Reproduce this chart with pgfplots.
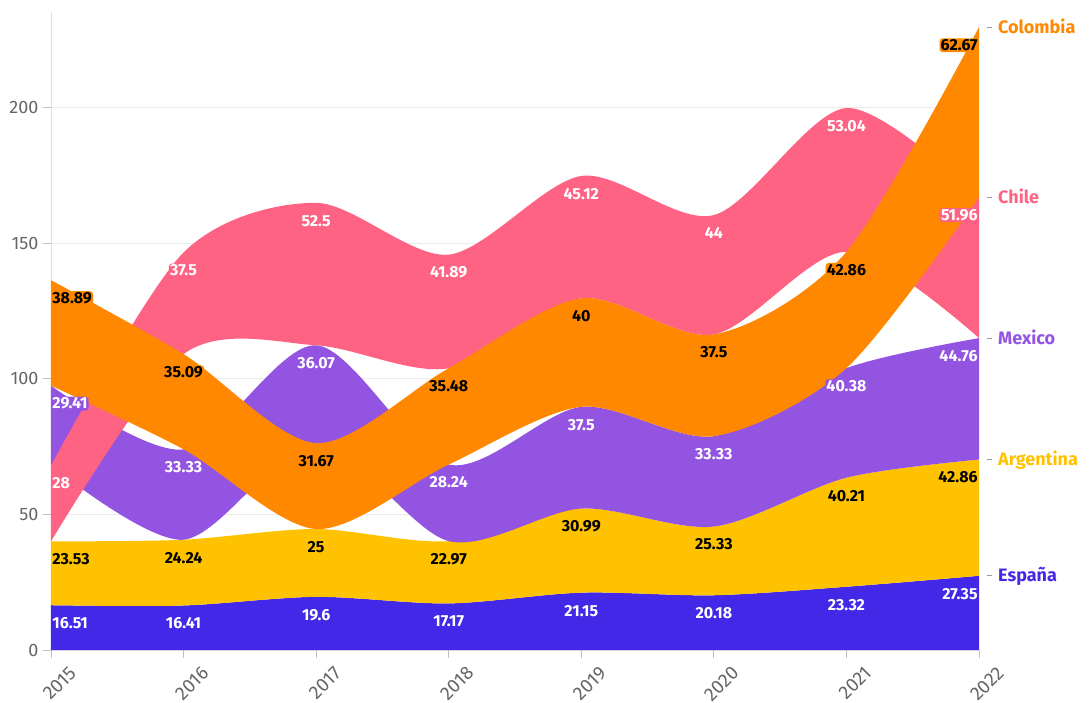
\documentclass[border=0pt]{standalone}
\usepackage{fontspec}
\setmainfont{Fira Sans}
\usepackage{pgfplots}
\usepackage{pgfplotstable}
\pgfplotsset{compat=1.18}
\usepgfplotslibrary{fillbetween}

\definecolor{cES}{HTML}{4328E7}
\definecolor{cAR}{HTML}{FFC200}
\definecolor{cMX}{HTML}{9454E2}
\definecolor{cCL}{HTML}{FF6384}
\definecolor{cCO}{HTML}{FF8800}

\pgfplotstableread{
year esLo esHi arHi mxLo mxHi clLo clHi coLo coHi
2015 0 16.51 40.04 68.04 97.45 40.04 68.04 97.45 136.34
2016 0 16.41 40.65 40.65 73.98 109.07 146.57 73.98 109.07
2017 0 19.6 44.6 76.27 112.34 112.34 164.84 44.6 76.27
2018 0 17.17 40.14 40.14 68.38 103.86 145.75 68.38 103.86
2019 0 21.15 52.14 52.14 89.64 129.64 174.76 89.64 129.64
2020 0 20.18 45.51 45.51 78.84 116.34 160.34 78.84 116.34
2021 0 23.32 63.53 63.53 103.91 146.77 199.81 103.91 146.77
2022 0 27.35 70.21 70.21 114.97 114.97 166.93 166.93 229.6
}\bands

% \lab{x,y}{text}{fill}{textcolor}{anchor}
\newcommand{\lab}[5]{\node[anchor=#5, fill=#3, text=#4, rounded corners=3pt,
  inner sep=1.2pt, yshift=-18pt, font=\fontsize{16}{18}\selectfont\bfseries] at (axis cs:#1) {#2};}
\newcommand{\rlab}[3]{\node[anchor=base west, xshift=8pt, yshift=-6pt, inner sep=0pt,
  font=\fontsize{18}{20}\selectfont\bfseries, text=#3] at (axis cs:#1) {\textcolor{black!40}{\rule[5.5pt]{5pt}{1pt}}\hspace{6pt}#2};}

\begin{document}
\begin{tikzpicture}
\begin{axis}[
  at={(0,0)}, anchor=south west,
  width=928pt, height=638pt, scale only axis,
  xmin=2015, xmax=2022, ymin=0, ymax=235.2,
  xtick={2015,2016,2017,2018,2019,2020,2021,2022},
  ytick={0,50,100,150,200},
  axis lines*=left,
  x axis line style={draw=none},
  y axis line style={black!12},
  ymajorgrids, grid style={black!8, line width=0.8pt},
  tick align=outside, major tick length=8pt,
  tick style={black!25, line width=0.8pt},
  /pgf/number format/assume math mode=true,
  /pgf/number format/1000 sep={},
  xticklabel={\pgfmathprintnumber{\tick}},
  yticklabel={\pgfmathprintnumber{\tick}},
  xticklabel style={font=\fontsize{19}{21}\selectfont, text=black!60, rotate=45, anchor=north east, xshift=7pt, yshift=-17pt, inner sep=0pt},
  yticklabel style={font=\fontsize{18}{20}\selectfont, text=black!60, xshift=-1pt},
  clip=false,
]
% Espana
\addplot[draw=none, smooth, forget plot, name path=esLo] table[x=year, y=esLo] {\bands};
\addplot[draw=none, smooth, forget plot, name path=esHi] table[x=year, y=esHi] {\bands};
\addplot[fill=cES, draw=none, forget plot] fill between[of=esHi and esLo];
% Argentina
\addplot[draw=none, smooth, forget plot, name path=arHi] table[x=year, y=arHi] {\bands};
\addplot[fill=cAR, draw=none, forget plot] fill between[of=arHi and esHi];
% Mexico
\addplot[draw=none, smooth, forget plot, name path=mxLo] table[x=year, y=mxLo] {\bands};
\addplot[draw=none, smooth, forget plot, name path=mxHi] table[x=year, y=mxHi] {\bands};
\addplot[fill=cMX, draw=none, forget plot] fill between[of=mxHi and mxLo];
% Chile
\addplot[draw=none, smooth, forget plot, name path=clLo] table[x=year, y=clLo] {\bands};
\addplot[draw=none, smooth, forget plot, name path=clHi] table[x=year, y=clHi] {\bands};
\addplot[fill=cCL, draw=none, forget plot] fill between[of=clHi and clLo];
% Colombia
\addplot[draw=none, smooth, forget plot, name path=coLo] table[x=year, y=coLo] {\bands};
\addplot[draw=none, smooth, forget plot, name path=coHi] table[x=year, y=coHi] {\bands};
\addplot[fill=cCO, draw=none, forget plot] fill between[of=coHi and coLo];

% value labels: Espana
\lab{2015,16.51}{16.51}{cES}{white}{west}
\lab{2016,16.41}{16.41}{cES}{white}{center}
\lab{2017,19.6}{19.6}{cES}{white}{center}
\lab{2018,17.17}{17.17}{cES}{white}{center}
\lab{2019,21.15}{21.15}{cES}{white}{center}
\lab{2020,20.18}{20.18}{cES}{white}{center}
\lab{2021,23.32}{23.32}{cES}{white}{center}
\lab{2022,27.35}{27.35}{cES}{white}{east}
% Argentina
\lab{2015,40.04}{23.53}{cAR}{black}{west}
\lab{2016,40.65}{24.24}{cAR}{black}{center}
\lab{2017,44.6}{25}{cAR}{black}{center}
\lab{2018,40.14}{22.97}{cAR}{black}{center}
\lab{2019,52.14}{30.99}{cAR}{black}{center}
\lab{2020,45.51}{25.33}{cAR}{black}{center}
\lab{2021,63.53}{40.21}{cAR}{black}{center}
\lab{2022,70.21}{42.86}{cAR}{black}{east}
% Mexico
\lab{2015,97.45}{29.41}{cMX}{white}{west}
\lab{2016,73.98}{33.33}{cMX}{white}{center}
\lab{2017,112.34}{36.07}{cMX}{white}{center}
\lab{2018,68.38}{28.24}{cMX}{white}{center}
\lab{2019,89.64}{37.5}{cMX}{white}{center}
\lab{2020,78.84}{33.33}{cMX}{white}{center}
\lab{2021,103.91}{40.38}{cMX}{white}{center}
\lab{2022,114.97}{44.76}{cMX}{white}{east}
% Chile
\lab{2015,68.04}{28}{cCL}{white}{west}
\lab{2016,146.57}{37.5}{cCL}{white}{center}
\lab{2017,164.84}{52.5}{cCL}{white}{center}
\lab{2018,145.75}{41.89}{cCL}{white}{center}
\lab{2019,174.76}{45.12}{cCL}{white}{center}
\lab{2020,160.34}{44}{cCL}{white}{center}
\lab{2021,199.81}{53.04}{cCL}{white}{center}
\lab{2022,166.93}{51.96}{cCL}{white}{east}
% Colombia
\lab{2015,136.34}{38.89}{cCO}{black}{west}
\lab{2016,109.07}{35.09}{cCO}{black}{center}
\lab{2017,76.27}{31.67}{cCO}{black}{center}
\lab{2018,103.86}{35.48}{cCO}{black}{center}
\lab{2019,129.64}{40}{cCO}{black}{center}
\lab{2020,116.34}{37.5}{cCO}{black}{center}
\lab{2021,146.77}{42.86}{cCO}{black}{center}
\lab{2022,229.6}{62.67}{cCO}{black}{east}

% series names on the right
\rlab{2022,229.6}{Colombia}{cCO}
\rlab{2022,166.93}{Chile}{cCL}
\rlab{2022,114.97}{Mexico}{cMX}
\rlab{2022,70.21}{Argentina}{cAR}
\rlab{2022,27.35}{España}{cES}
\end{axis}
\pgfresetboundingbox
\path (-51pt,-52pt) rectangle (1038pt,650pt);
\end{tikzpicture}
\end{document}
